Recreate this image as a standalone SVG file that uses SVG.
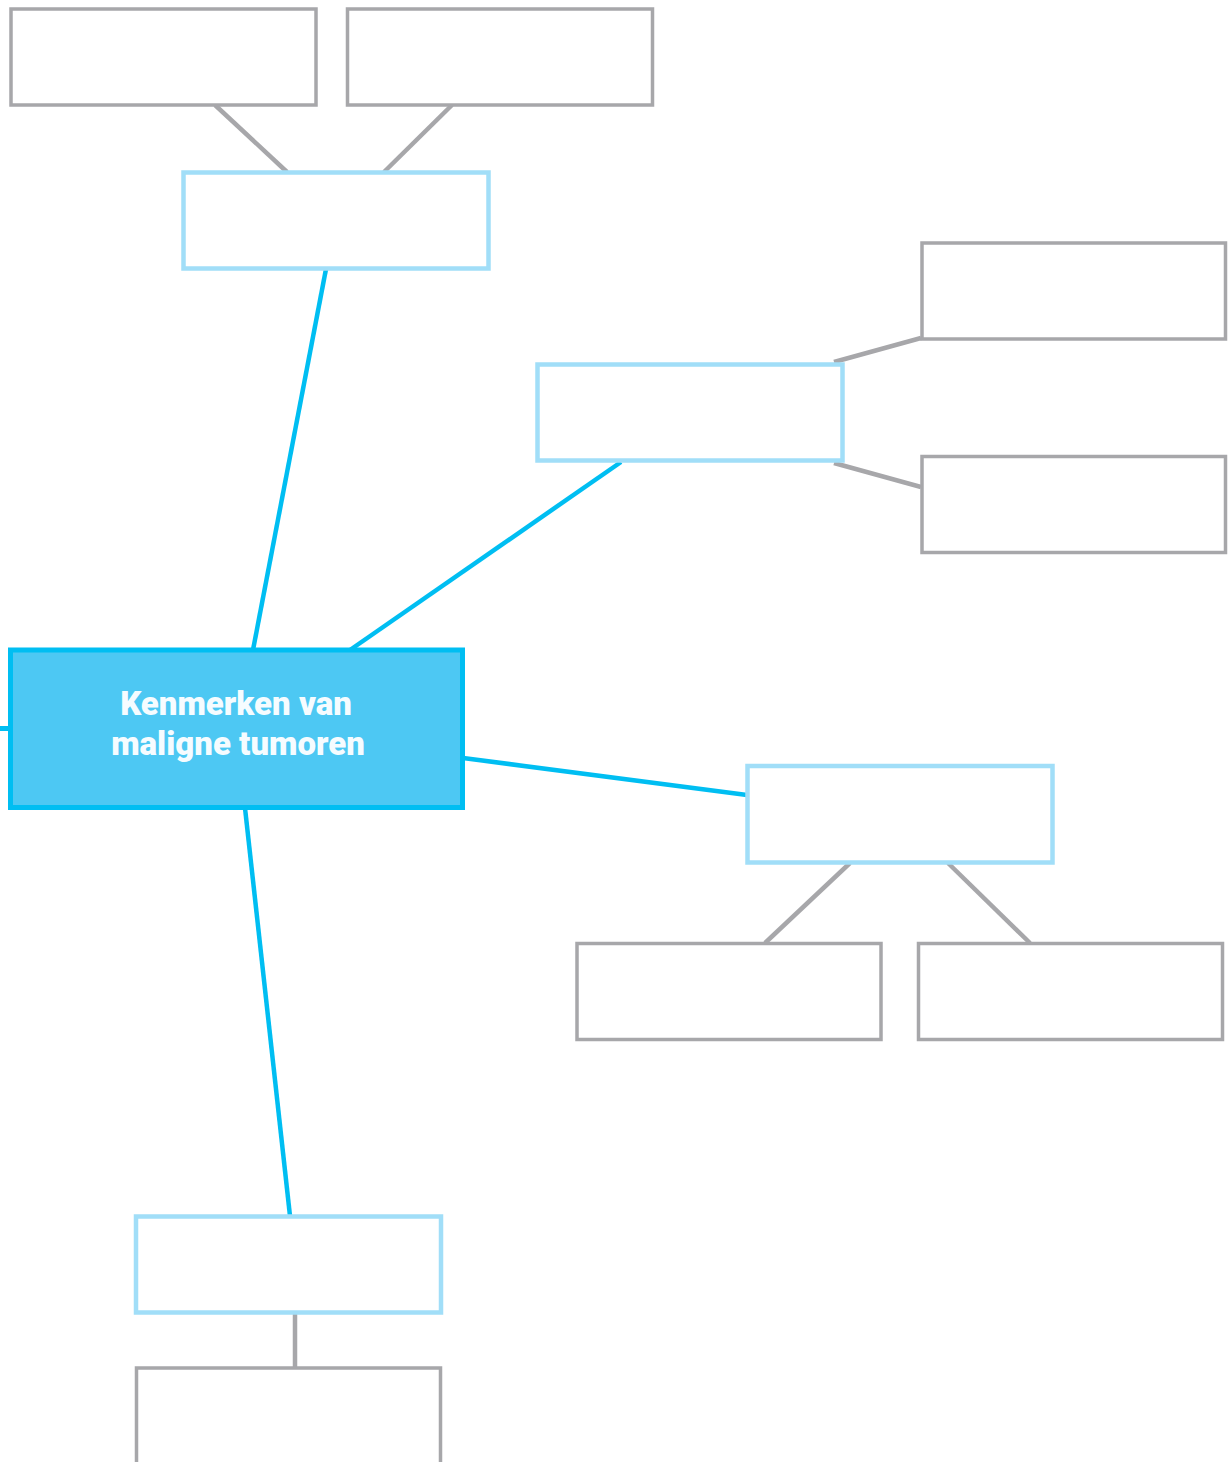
<svg xmlns="http://www.w3.org/2000/svg" width="1228" height="1462" viewBox="0 0 1228 1462">
<style>
.gray{fill:#FFFFFF;stroke:#A7A7AA;stroke-width:3.5}
.sub{fill:#FFFFFF;stroke:#A1DEF8;stroke-width:4.5}
.main{fill:#4DC8F3;stroke:#00BEF2;stroke-width:5}
.cg{stroke:#A7A7AA;stroke-width:4.5;fill:none}
.cb{stroke:#00BEF2;stroke-width:4.5;fill:none}
.lbl{font-family:Roboto,"Liberation Sans",sans-serif;font-weight:900;font-size:33px;fill:#F6FCFF;text-anchor:middle}
</style>
<rect width="1228" height="1462" fill="#FFFFFF"/>
<g id="connectors">
<line class="cg" x1="215" y1="105" x2="287" y2="172"/>
<line class="cg" x1="452" y1="105" x2="384" y2="172"/>
<line class="cg" x1="834" y1="362" x2="921" y2="338"/>
<line class="cg" x1="834" y1="463" x2="921" y2="487"/>
<line class="cg" x1="850" y1="863" x2="765" y2="943"/>
<line class="cg" x1="948" y1="863" x2="1030" y2="943"/>
<line class="cg" x1="295" y1="1313" x2="295" y2="1368"/>
<line class="cb" x1="326" y1="269" x2="253" y2="650"/>
<line class="cb" x1="621" y1="462" x2="350" y2="650"/>
<line class="cb" x1="463" y1="758" x2="747" y2="795"/>
<line class="cb" x1="245" y1="808" x2="290" y2="1216"/>
<line class="cb" x1="0" y1="728.5" x2="10" y2="728.5" style="stroke-width:5"/>
</g>
<g id="n-top-left"><rect class="gray" x="11" y="9" width="305" height="96"/></g>
<g id="n-top-right"><rect class="gray" x="347.5" y="9" width="305" height="96"/></g>
<g id="n-sub-top"><rect class="sub" x="183.5" y="172.5" width="305" height="96"/></g>
<g id="n-sub-mid"><rect class="sub" x="537.5" y="364.5" width="305" height="96"/></g>
<g id="n-right-1"><rect class="gray" x="922" y="243" width="303.5" height="96"/></g>
<g id="n-right-2"><rect class="gray" x="922" y="456.5" width="303.5" height="96"/></g>
<g id="n-sub-right"><rect class="sub" x="747.5" y="766" width="305" height="96.5"/></g>
<g id="n-br-1"><rect class="gray" x="577" y="943.5" width="304" height="96"/></g>
<g id="n-br-2"><rect class="gray" x="918.5" y="943.5" width="304" height="96"/></g>
<g id="n-sub-bottom"><rect class="sub" x="136" y="1216.5" width="305" height="96"/></g>
<g id="n-bottom"><rect class="gray" x="136.5" y="1368" width="304" height="100"/></g>
<g id="n-main">
<rect class="main" x="10.5" y="650" width="452" height="157.5"/>
<text class="lbl" x="236" y="715">Kenmerken van</text>
<text class="lbl" x="238" y="755">maligne tumoren</text>
</g>
</svg>
